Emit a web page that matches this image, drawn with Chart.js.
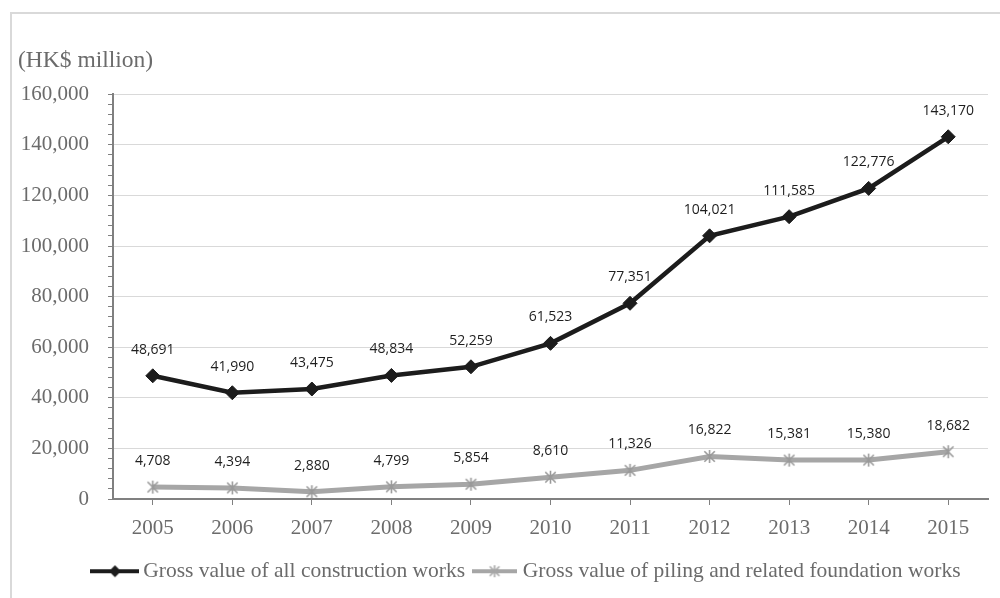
<!DOCTYPE html>
<html>
<head>
<meta charset="utf-8">
<script src="https://cdn.jsdelivr.net/npm/chart.js@4/dist/chart.umd.min.js"></script>
<style>
  html, body { margin: 0; padding: 0; background: #fff; }
  #chart { display: block; }
</style>
</head>
<body>
<canvas id="chart" width="1000" height="598"></canvas>
<script>
const years = ['2005', '2006', '2007', '2008', '2009', '2010', '2011', '2012', '2013', '2014', '2015'];
const allWorks = [48691, 41990, 43475, 48834, 52259, 61523, 77351, 104021, 111585, 122776, 143170];
const pilingWorks = [4708, 4394, 2880, 4799, 5854, 8610, 11326, 16822, 15381, 15380, 18682];
const seriesNames = ['Gross value of all construction works', 'Gross value of piling and related foundation works'];
const unitLabel = '(HK$ million)';

const BLACK = '#1c1c1c';
const GREY = '#a6a6a6';
const SERIF = '"Liberation Serif", "Times New Roman", serif';
const legendShift = 25;

// star marker like excel's: X with a vertical bar
function starMarker(size, color) {
  const c = document.createElement('canvas');
  c.width = size; c.height = size;
  const g = c.getContext('2d');
  const m = size / 2, r = size / 2 - 1;
  g.strokeStyle = color;
  g.lineWidth = 1.6;
  g.beginPath();
  g.moveTo(m, m - r); g.lineTo(m, m + r);
  g.moveTo(m - r * 0.8, m - r * 0.8); g.lineTo(m + r * 0.8, m + r * 0.8);
  g.moveTo(m + r * 0.8, m - r * 0.8); g.lineTo(m - r * 0.8, m + r * 0.8);
  g.stroke();
  return c;
}

function legendIcon(kind, color, w) {
  const c = document.createElement('canvas');
  c.width = w; c.height = 16;
  const g = c.getContext('2d');
  g.strokeStyle = color;
  g.lineWidth = 4;
  g.beginPath();
  g.moveTo(0, 8); g.lineTo(w, 8);
  g.stroke();
  if (kind === 'diamond') {
    g.fillStyle = color;
    g.beginPath();
    g.moveTo(w / 2, 2); g.lineTo(w / 2 + 6, 8); g.lineTo(w / 2, 14); g.lineTo(w / 2 - 6, 8);
    g.closePath();
    g.fill();
  } else {
    g.drawImage(starMarker(14, color), w / 2 - 7, 1);
  }
  return c;
}

const starPoint = starMarker(15, '#999999');
const legendIcons = [legendIcon('diamond', BLACK, 49), legendIcon('star', GREY, 45)];

const frame = {
  id: 'frame',
  beforeDraw(chart) {
    const ctx = chart.ctx;
    ctx.save();
    ctx.strokeStyle = '#d9d9d9';
    ctx.lineWidth = 2;
    ctx.strokeRect(11, 13, 1100, 700);
    ctx.restore();
  }
};

const valueLabels = {
  id: 'valueLabels',
  afterDatasetsDraw(chart) {
    const ctx = chart.ctx;
    ctx.save();
    ctx.font = '14px "Open Sans", sans-serif';
    ctx.fillStyle = '#1e1e1e';
    ctx.textAlign = 'center';
    ctx.textBaseline = 'middle';
    chart.data.datasets.forEach((ds, i) => {
      chart.getDatasetMeta(i).data.forEach((pt, j) => {
        ctx.fillText(ds.data[j].toLocaleString('en-US'), pt.x, pt.y - 26);
      });
    });
    ctx.restore();
  }
};

const shiftLegend = {
  id: 'shiftLegend',
  afterLayout(chart) {
    chart.legend.left += legendShift;
    chart.legend.right += legendShift;
  }
};

new Chart(document.getElementById('chart'), {
  type: 'line',
  data: {
    labels: years,
    datasets: [{
      label: seriesNames[0],
      data: allWorks,
      borderColor: BLACK,
      backgroundColor: BLACK,
      borderWidth: 4.5,
      pointStyle: 'rectRot',
      pointRadius: 7,
      pointBorderWidth: 1,
      tension: 0
    }, {
      label: seriesNames[1],
      data: pilingWorks,
      borderColor: GREY,
      backgroundColor: GREY,
      borderWidth: 5,
      pointStyle: starPoint,
      pointRadius: 7,
      tension: 0
    }]
  },
  options: {
    responsive: false,
    animation: false,
    devicePixelRatio: 1,
    layout: { padding: { left: 18, right: 10, top: 0, bottom: 6 } },
    plugins: {
      tooltip: { enabled: false },
      title: {
        display: true,
        text: unitLabel,
        align: 'start',
        color: '#6b6b6b',
        font: { family: SERIF, size: 23.5, weight: 'normal' },
        padding: { top: 47, bottom: 19 }
      },
      legend: {
        position: 'bottom',
        labels: {
          color: '#6b6b6b',
          font: { family: SERIF, size: 21.5 },
          usePointStyle: true,
          pointStyleWidth: 35,
          padding: 12,
          generateLabels(chart) {
            const items = Chart.defaults.plugins.legend.labels.generateLabels(chart);
            items.forEach((it, i) => { it.pointStyle = legendIcons[i]; });
            return items;
          }
        }
      }
    },
    scales: {
      x: {
        offset: true,
        grid: { display: true, drawOnChartArea: false, offset: false, tickLength: 6, color: '#808080' },
        border: { color: '#808080', width: 2 },
        ticks: { color: '#6b6b6b', font: { family: SERIF, size: 21 }, padding: 11, maxRotation: 0 },
        afterFit(scale) { scale.height = 49.5; }
      },
      y: {
        min: 0,
        max: 160000,
        grid: {
          color: (c) => (c.tick && c.tick.value % 20000 === 0 && c.tick.value > 0) ? '#d9d9d9' : 'transparent',
          tickColor: '#808080',
          tickLength: 5
        },
        border: { color: '#808080', width: 2 },
        ticks: {
          stepSize: 4000,
          autoSkip: false,
          padding: 19,
          color: '#6b6b6b',
          font: { family: SERIF, size: 21 },
          callback: (v) => v % 20000 === 0 ? v.toLocaleString('en-US') : ''
        },
        afterFit(scale) { scale.width = 95; }
      }
    }
  },
  plugins: [frame, valueLabels, shiftLegend]
});
</script>
</body>
</html>
